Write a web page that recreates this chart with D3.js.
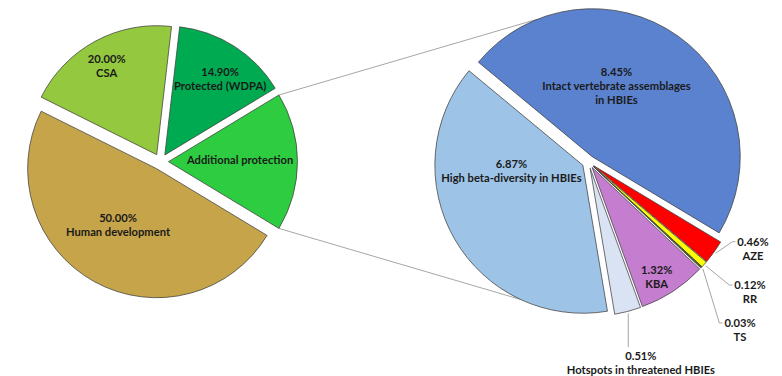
<!DOCTYPE html>
<html>
<head>
<meta charset="utf-8">
<script src="https://cdn.jsdelivr.net/npm/d3@7"></script>
<style>
  body { margin: 0; background: #fff; }
  text { font-family: Lato, "Open Sans", sans-serif; font-weight: 700; font-size: 11.2px; fill: #1a1a1a; }
</style>
</head>
<body>
<svg id="chart" width="782" height="376"></svg>
<script>
// ---- data ----
const mainNames  = ["Human development", "CSA", "Protected (WDPA)"];
const mainValues = [50.00, 20.00, 14.90];
const mainColors = ["#C5A44A", "#93C83F", "#00AA50"];

// breakdown of "Additional protection" shown in the secondary pie
const splitName  = "Additional protection";
const splitColor = "#2ECC40";
const detailNames  = ["Intact vertebrate assemblages\nin HBIEs", "AZE", "RR", "TS", "KBA",
                      "Hotspots in threatened HBIEs", "High beta-diversity in HBIEs"];
const detailValues = [8.45, 0.46, 0.12, 0.03, 1.32, 0.51, 6.87];
const detailColors = ["#5B82CF", "#FF0000", "#FFFF00", "#4F6228", "#C47DCF", "#DAE3F3", "#9DC3E6"];

// ---- layout ----
const deg = Math.PI / 180;
const svg = d3.select("#chart");
const main = { cx: 160.5, cy: 161.7, r: 129, explode: 8 };
const sec  = { cx: 588.5, cy: 162,   r: 148, explode: 6.5, start: -50.3 * deg };

// label anchors: absolute angle (deg) and distance as a fraction of the radius
const labelPos = {
  "Human development": { a: 214.4, f: 0.53 },
  "CSA": { a: 330.6, f: 0.79 },
  "Protected (WDPA)": { a: 36.2, f: 0.725 },
  "Additional protection": { a: 89, f: 0.555 },
  "Intact vertebrate assemblages\nin HBIEs": { a: 18.9, f: 0.505 },
  "High beta-diversity in HBIEs": { a: 265.6, f: 0.484 },
  "KBA": { a: 149.5, f: 0.86 },
  "AZE": { a: 117.5, f: 1.213, leader: "side" },
  "RR": { a: 128.75, f: 1.357, leader: "side" },
  "TS": { a: 138.1, f: 1.485, leader: "side" },
  "Hotspots in threatened HBIEs": { a: 165.4, f: 1.36, leader: "down" }
};

const polar = (a, r) => [Math.sin(a) * r, -Math.cos(a) * r];
const fmt = v => v.toFixed(2) + "%";

const splitValue = d3.sum(detailValues);
const grand = d3.sum(mainValues) + splitValue;

const mainData = [{ name: splitName, value: splitValue, color: splitColor, pct: false }]
  .concat(mainNames.map((n, i) => ({ name: n, value: mainValues[i], color: mainColors[i], pct: true })));
const detailData = detailNames.map((n, i) => ({ name: n, value: detailValues[i], color: detailColors[i], pct: true }));

// the split slice is centred on the right-hand side, facing the secondary pie
const splitSpan = splitValue / grand * 2 * Math.PI;
const mainStart = Math.PI / 2 - splitSpan / 2;
const mainArcs = d3.pie().sort(null).value(d => d.value)
  .startAngle(mainStart).endAngle(mainStart + 2 * Math.PI)(mainData);
const secArcs = d3.pie().sort(null).value(d => d.value)
  .startAngle(sec.start).endAngle(sec.start + 2 * Math.PI)(detailData);

function apexOf(p, a) {
  const mid = (a.startAngle + a.endAngle) / 2;
  const o = polar(mid, p.explode);
  return [p.cx + o[0], p.cy + o[1]];
}

// ---- connector lines between the split slice and the secondary pie ----
const splitArc = mainArcs[0];
const sApex = apexOf(main, splitArc);
function secPoint(angle) {
  const a = ((angle % (2 * Math.PI)) + 2 * Math.PI) % (2 * Math.PI);
  const hit = secArcs.find(s => {
    let t = a;
    while (t < s.startAngle) t += 2 * Math.PI;
    return t <= s.endAngle;
  }) || secArcs[0];
  const ap = apexOf(sec, hit);
  const o = polar(angle, sec.r);
  return [ap[0] + o[0], ap[1] + o[1]];
}
const cornerOf = ang => [sApex[0] + polar(ang, main.r)[0], sApex[1] + polar(ang, main.r)[1]];
const conn = [
  [cornerOf(splitArc.startAngle), secPoint(338.3 * deg)],
  [cornerOf(splitArc.endAngle), secPoint(205 * deg)]
];
svg.append("g").selectAll("line").data(conn).join("line")
  .attr("x1", d => d[0][0]).attr("y1", d => d[0][1])
  .attr("x2", d => d[1][0]).attr("y2", d => d[1][1])
  .attr("stroke", "#A6A6A6").attr("stroke-width", 1);

// ---- pies ----
function drawPie(p, arcs) {
  const arc = d3.arc().innerRadius(0).outerRadius(p.r);
  const g = svg.append("g");
  g.selectAll("path").data(arcs).join("path")
    .attr("transform", a => `translate(${apexOf(p, a)})`)
    .attr("d", arc)
    .attr("fill", a => a.data.color)
    .attr("stroke", "#3F3F3F").attr("stroke-width", 0.75).attr("stroke-linejoin", "round");

  const lg = svg.append("g");
  arcs.forEach(a => {
    const L = labelPos[a.data.name];
    const ap = apexOf(p, a);
    const o = polar(L.a * deg, L.f * p.r);
    const cx = ap[0] + o[0], cy = ap[1] + o[1];
    const lines = (a.data.pct ? [fmt(a.data.value)] : []).concat(a.data.name.split("\n"));
    const y0 = cy - (lines.length - 1) * 14 / 2;
    const t = lg.append("text").attr("text-anchor", "middle");
    lines.forEach((s, i) => t.append("tspan").attr("x", cx).attr("y", y0 + i * 14).attr("dy", "0.35em").text(s));

    if (L.leader) {
      const mid = (a.startAngle + a.endAngle) / 2;
      const so = polar(mid, p.r + 2);
      const start = [ap[0] + so[0], ap[1] + so[1]];
      let pts;
      if (L.leader === "side") {
        const w = t.select("tspan").node().getComputedTextLength();
        const end = [cx - w / 2 - 2, y0];
        pts = [start, [end[0] - 3, end[1]], end];
      } else {
        pts = [start, [start[0], y0 - 9]];
      }
      lg.append("path").attr("d", d3.line()(pts))
        .attr("fill", "none").attr("stroke", "#A6A6A6").attr("stroke-width", 1);
    }
  });
}
drawPie(main, mainArcs);
drawPie(sec, secArcs);
</script>
</body>
</html>
